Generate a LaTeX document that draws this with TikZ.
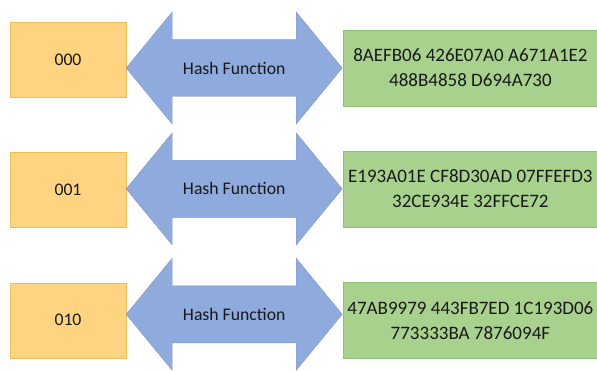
\documentclass[tikz,border=0pt]{standalone}
\usepackage{fontspec}
\setmainfont{Carlito}
\usepackage{tikz}
\usetikzlibrary{positioning}

\definecolor{keyfill}{HTML}{FFD480}
\definecolor{keydraw}{HTML}{F2BC55}
\definecolor{hashfill}{HTML}{8FAADC}
\definecolor{hashdraw}{HTML}{7D97CB}
\definecolor{digestfill}{HTML}{A9D18E}
\definecolor{digestdraw}{HTML}{8EBF72}

\begin{document}
\begin{tikzpicture}[
    x=1pt, y=1pt,
    node distance=55pt,
    every node/.style={font=\fontsize{17.7}{25}\selectfont, text=black!90, inner sep=0pt},
    keybox/.style={draw=keydraw, fill=keyfill, minimum width=116pt, minimum height=75pt},
    hasharrow/.style={draw=hashdraw, fill=hashfill, line join=miter},
    digestbox/.style={draw=digestdraw, fill=digestfill, minimum width=254pt, minimum height=76pt, align=center,
        font=\fontsize{19}{25}\selectfont}
]
\useasboundingbox (0,0) rectangle (597,370);

\node (key1) [keybox] at (68,310.5) {000};
\node (key2) [keybox, below=of key1] {001};
\node (key3) [keybox, below=of key2] {010};

\coordinate (tip1) at ([yshift=-8.5pt]key1.east);
\coordinate (tip2) at ([yshift=1pt]key2.east);
\coordinate (tip3) at ([yshift=6pt]key3.east);

\draw[hasharrow] (tip1) -- ++(46,56) -- ++(0,-27.5) -- ++(124,0) -- ++(0,27.5) -- ++(46,-56)
    -- ++(-46,-56) -- ++(0,27.5) -- ++(-124,0) -- ++(0,-27.5) -- cycle;
\draw[hasharrow] (tip2) -- ++(46,56) -- ++(0,-27.5) -- ++(124,0) -- ++(0,27.5) -- ++(46,-56)
    -- ++(-46,-56) -- ++(0,27.5) -- ++(-124,0) -- ++(0,-27.5) -- cycle;
\draw[hasharrow] (tip3) -- ++(46,56) -- ++(0,-27.5) -- ++(124,0) -- ++(0,27.5) -- ++(46,-56)
    -- ++(-46,-56) -- ++(0,27.5) -- ++(-124,0) -- ++(0,-27.5) -- cycle;

\node (hash1) at ([xshift=108pt]tip1) {Hash Function};
\node (hash2) at ([xshift=108pt]tip2) {Hash Function};
\node (hash3) at ([xshift=108pt]tip3) {Hash Function};

\node (digest1) [digestbox, right=217pt of tip1] {8AEFB06 426E07A0 A671A1E2\\ 488B4858 D694A730};
\node (digest2) [digestbox, right=217pt of tip2] {E193A01E CF8D30AD 07FFEFD3\\ 32CE934E 32FFCE72};
\node (digest3) [digestbox, right=217pt of tip3, yshift=-6pt] {47AB9979 443FB7ED 1C193D06\\ 773333BA 7876094F};

\end{tikzpicture}
\end{document}
